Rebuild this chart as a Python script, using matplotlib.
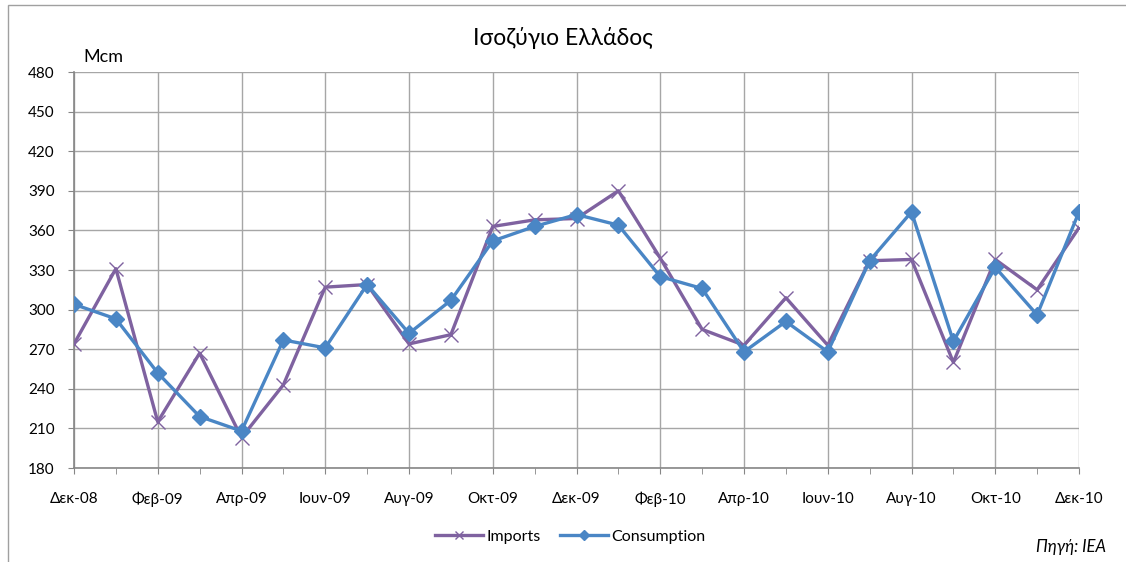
import matplotlib
matplotlib.use("Agg")
import matplotlib.pyplot as plt
from matplotlib.patches import Rectangle
from matplotlib.ticker import MultipleLocator, FixedLocator

plt.rcParams['font.family'] = ['Lato', 'DejaVu Sans']

months = ["Δεκ-08", "Ιαν-09", "Φεβ-09", "Μαρ-09", "Απρ-09", "Μαϊ-09", "Ιουν-09",
          "Ιουλ-09", "Αυγ-09", "Σεπ-09", "Οκτ-09", "Νοε-09", "Δεκ-09", "Ιαν-10",
          "Φεβ-10", "Μαρ-10", "Απρ-10", "Μαϊ-10", "Ιουν-10", "Ιουλ-10", "Αυγ-10",
          "Σεπ-10", "Οκτ-10", "Νοε-10", "Δεκ-10"]
imports = [274, 331, 215, 267, 203, 243, 317, 319, 274, 281, 363, 368, 369, 390,
           339, 285, 273, 309, 273, 337, 338, 260, 338, 315, 362]
consumption = [304, 293, 252, 219, 208, 277, 271, 319, 282, 307, 352, 363, 372, 364,
               325, 316, 268, 291, 268, 337, 374, 276, 332, 296, 374]

PURPLE = "#7F62A0"
BLUE = "#4A86C5"
GRID = "#A6A6A6"
SPINE = "#868686"

fig = plt.figure(figsize=(11.26, 5.62), dpi=100)
fig.patches.append(Rectangle((8/1126, -0.1), 1.2, 1.1 - 5/562, transform=fig.transFigure,
                             fill=False, edgecolor="#A0A0A0", linewidth=1.0))
ax = fig.add_axes([74/1126, 1 - 468/562, (1079 - 74)/1126, (468 - 72)/562])

x = list(range(len(months)))
ax.plot(x, imports, color=PURPLE, linewidth=2.4, marker='x', markersize=9.5,
        markeredgewidth=1.0, label="Imports", zorder=3)
ax.plot(x, consumption, color=BLUE, linewidth=2.4, marker='D', markersize=8.5,
        label="Consumption", zorder=4)

ax.set_xlim(0, len(months) - 1)
ax.set_ylim(180, 480)
ax.yaxis.set_major_locator(MultipleLocator(30))
ax.xaxis.set_major_locator(FixedLocator(x[::2]))
ax.xaxis.set_minor_locator(FixedLocator(x[1::2]))
ax.set_xticklabels(months[::2])
ax.grid(True, which='major', color=GRID, linewidth=1.0)
ax.set_axisbelow(True)
for s in ['top', 'right']:
    ax.spines[s].set_visible(False)
for s in ['left', 'bottom']:
    ax.spines[s].set_color(SPINE)
    ax.spines[s].set_linewidth(1.2)
ax.tick_params(axis='both', which='both', direction='out', color=SPINE, length=4,
               labelsize=11, labelcolor='black')
ax.tick_params(axis='x', which='major', pad=13)
ax.tick_params(axis='y', pad=10)

fig.text(0.5, 1 - 38/562, "Ισοζύγιο Ελλάδος", ha='center', va='center', fontsize=16.5)
fig.text(83/1126, 1 - 57/562, "Mcm", ha='left', va='center', fontsize=13)

leg = fig.legend(loc='center', bbox_to_anchor=(570/1126, 1 - 537/562), ncol=2,
                 frameon=False, fontsize=11.5, handlelength=3.0, handletextpad=0.2,
                 columnspacing=1.2, markerscale=0.6)
fig.text(1106/1126, 1 - 547/562, "Πηγή: IEA", ha='right', va='center', fontsize=12,
         style='italic')

fig.savefig("out.png", dpi=100)
